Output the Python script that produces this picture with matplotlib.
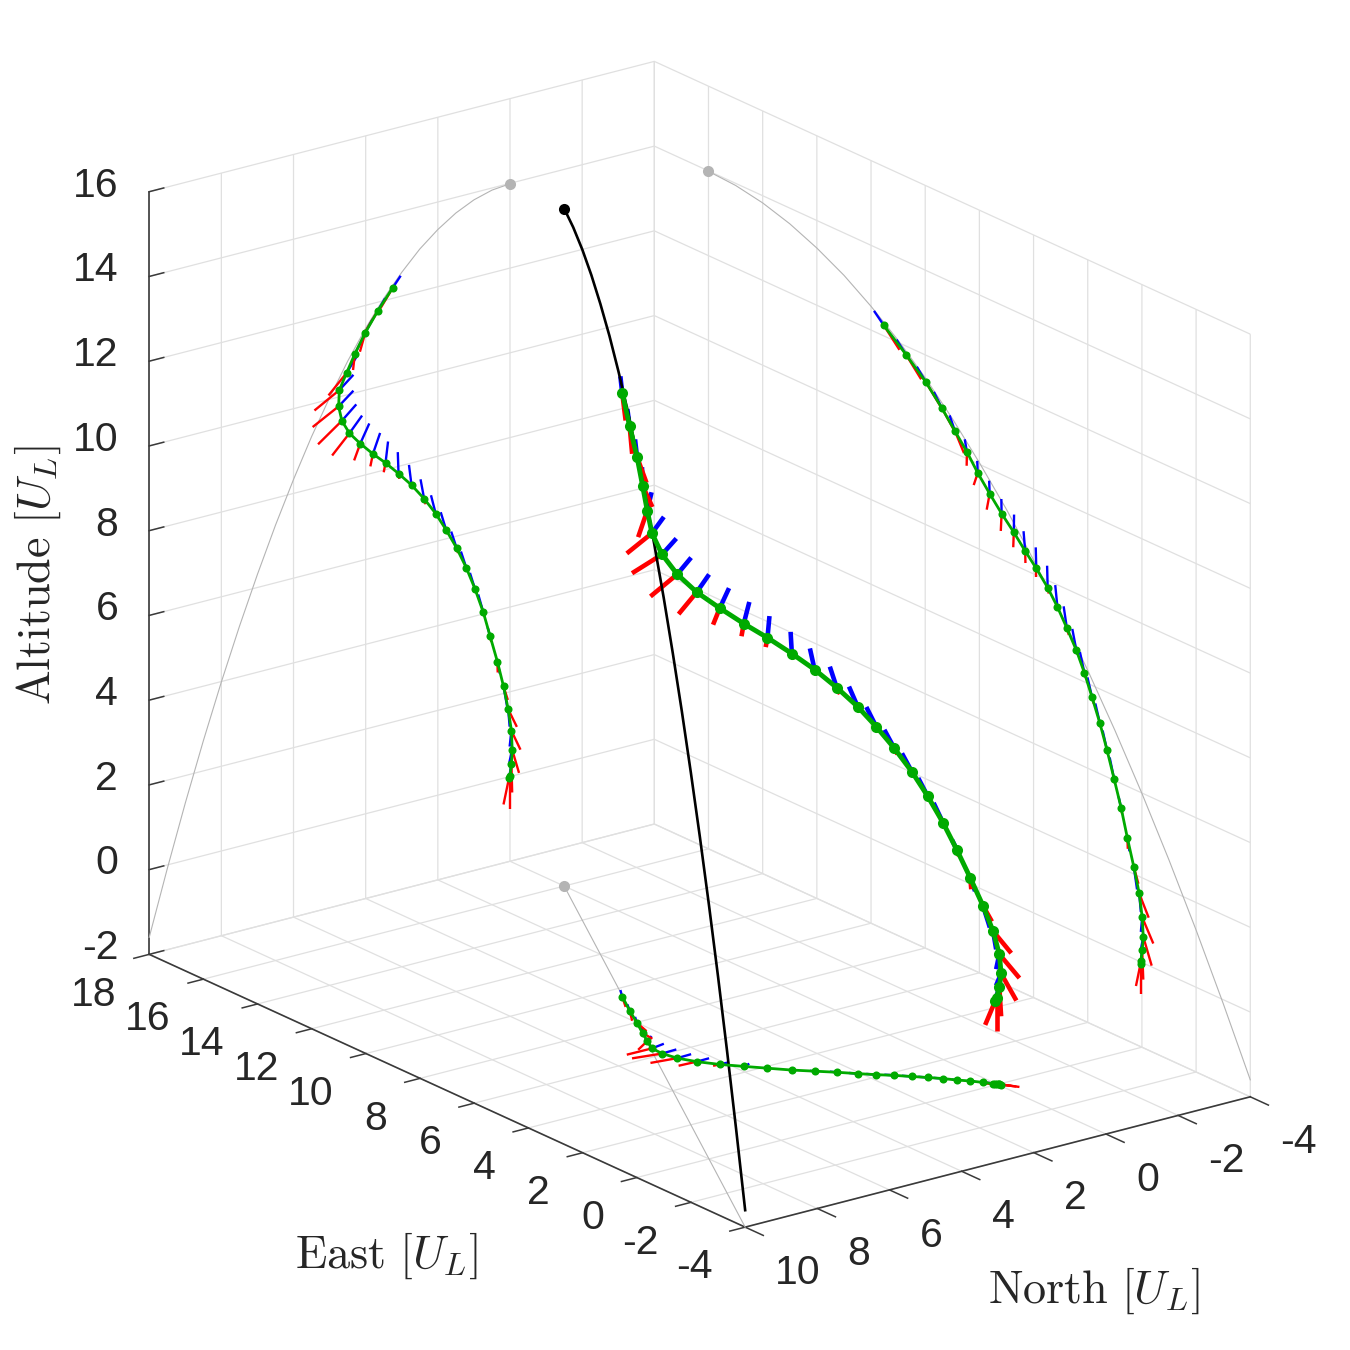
import numpy as np
import matplotlib
matplotlib.use("Agg")
import matplotlib.pyplot as plt
from mpl_toolkits.mplot3d import proj3d

# =========================================================
# DATA
# =========================================================
# nominal (black) trajectory
nom_east = [16, 15, 14, 13, 12, 11, 10, 9, 8, 7, 6, 5, 4, 3, 2, 1, 0, -1, -2, -3, -4]
nom_north = [0, 0.5, 1, 1.5, 2, 2.5, 3, 3.5, 4, 4.5, 5, 5.5, 6, 6.5, 7, 7.5, 8, 8.5, 9, 9.5, 10]
nom_alt = [13.99, 13.95, 13.83, 13.63, 13.35, 13.00, 12.56, 12.05, 11.46, 10.79, 10.04,
           9.23, 8.33, 7.36, 6.31, 5.19, 3.99, 2.71, 1.35, -0.09, -1.60]

# flown (green) trajectory
east = [9.53, 8.71, 7.97, 7.38, 6.90, 6.46, 6.06, 5.62, 5.18, 4.73, 4.31, 3.90, 3.48, 3.12, 2.77,
        2.42, 2.12, 1.84, 1.55, 1.29, 1.03, 0.77, 0.54, 0.30, 0.10, -0.01, -0.05, -0.01, 0.04, 0.05]
north = [3.25, 3.66, 4.01, 4.30, 4.53, 4.73, 4.75, 4.66, 4.45, 4.15, 3.80, 3.45, 3.09, 2.73, 2.38,
         2.06, 1.77, 1.48, 1.21, 0.97, 0.74, 0.55, 0.35, 0.18, 0.05, -0.04, -0.06, -0.04, 0.00, 0.03]
alt = [12.25, 11.80, 11.36, 10.92, 10.52, 10.16, 9.78, 9.42, 9.08, 8.77, 8.45, 8.16, 7.83, 7.48, 7.08,
       6.66, 6.21, 5.72, 5.19, 4.64, 4.04, 3.43, 2.79, 2.17, 1.60, 1.07, 0.62, 0.29, 0.02, -0.04]

# blue whisker offsets
blue_de = [0.36, 0.35, 0.34, 0.30, 0.20, 0.08, 0.02, 0.02, 0.01, -0.01, 0.06, 0.02, 0.02, 0.08, 0.12,
           0.15, 0.17, 0.17, 0.17, 0.16, 0.16, 0.09, -0.08, -0.12, -0.06, 0.05, 0.08, 0.05, 0.02, 0.02]
blue_dn = [-0.22, -0.20, -0.20, -0.21, -0.27, -0.39, -0.41, -0.40, -0.35, -0.25, -0.20, -0.07, 0.02, 0.07, 0.10,
           0.13, 0.15, 0.15, 0.15, 0.14, 0.14, 0.07, -0.07, -0.10, -0.04, 0.05, 0.08, 0.05, 0.02, 0.02]
blue_dz = [0.235, 0.25, 0.27, 0.30, 0.315, 0.275, 0.28, 0.30, 0.34, 0.42, 0.45, 0.49, 0.51, 0.49, 0.48,
           0.46, 0.45, 0.42, 0.42, 0.41, 0.45, 0.23, -0.30, -0.50, -0.42, -0.36, -0.29, -0.24, -0.12, -0.10]

# red whisker offsets
red_de = [-0.58, -0.56, -0.55, -0.43, -0.33, 0.01, 0.15, 0.11, 0.03, 0.02, -0.01, 0.00, -0.04, -0.02, -0.07,
          -0.04, -0.06, -0.06, -0.04, -0.04, -0.04, -0.04, -0.02, -0.17, -0.35, -0.41, -0.31, -0.04, 0.00, 0.17]
red_dn = [0.34, 0.35, 0.15, 0.05, 0.50, 0.69, 0.72, 0.66, 0.48, 0.17, 0.07, 0.05, -0.02, -0.01, -0.04,
          -0.03, -0.04, -0.04, -0.03, -0.03, -0.03, -0.03, -0.01, -0.12, -0.24, -0.25, -0.19, -0.02, 0.00, 0.15]
red_dz = [-0.41, -0.42, -0.42, -0.37, -0.42, -0.33, -0.33, -0.41, -0.42, -0.36, -0.28, -0.21, -0.13, -0.07, -0.14,
          -0.09, -0.11, -0.13, -0.09, -0.09, -0.11, -0.14, -0.26, -0.35, -0.47, -0.50, -0.59, -0.68, -0.78, -0.58]

east_ticks = [-4, -2, 0, 2, 4, 6, 8, 10, 12, 14, 16, 18]
north_ticks = [-4, -2, 0, 2, 4, 6, 8, 10]
alt_ticks = [-2, 0, 2, 4, 6, 8, 10, 12, 14, 16]

E_MIN, E_MAX = -4, 18
N_MIN, N_MAX = -4, 10
Z_MIN, Z_MAX = -2, 16

GRID_COL = "#e0e0e0"
AXIS_COL = "#3a3a3a"
TEXT_COL = "#262626"
GREEN = "#00aa00"
SHADOW = "#b4b4b4"

plt.rcParams["font.family"] = ["Liberation Sans", "DejaVu Sans"]
plt.rcParams["mathtext.fontset"] = "cm"
plt.rcParams["grid.color"] = GRID_COL
plt.rcParams["grid.linewidth"] = 0.9

east = np.array(east)
north = np.array(north)
alt = np.array(alt)
nom_east = np.array(nom_east, dtype=float)
nom_north = np.array(nom_north, dtype=float)
nom_alt = np.array(nom_alt)
blue_de, blue_dn, blue_dz = map(np.array, (blue_de, blue_dn, blue_dz))
red_de, red_dn, red_dz = map(np.array, (red_de, red_dn, red_dz))


# =========================================================
# AXES
# =========================================================
fig = plt.figure(figsize=(13.5, 13.5), dpi=100)
ax = fig.add_axes([6.5 / 1350, 12.5 / 1350, 1, 1], projection="3d", proj_type="ortho")
ax.computed_zorder = False
ax.set_box_aspect((E_MAX - E_MIN, N_MAX - N_MIN, Z_MAX - Z_MIN), zoom=1.028)
ax.view_init(elev=20.1, azim=143.1)
ax.set_xlim(E_MIN, E_MAX, view_margin=0)
ax.set_ylim(N_MIN, N_MAX, view_margin=0)
ax.set_zlim(Z_MIN, Z_MAX, view_margin=0)
ax.set_xticks(east_ticks)
ax.set_yticks(north_ticks)
ax.set_zticks(alt_ticks)
ax.set_xticklabels([])
ax.set_yticklabels([])
ax.set_zticklabels([])
ax.patch.set_alpha(0)
ax.zaxis.set_ticks_position("upper")

for axis, tick_len in ((ax.xaxis, -0.38), (ax.yaxis, -0.38), (ax.zaxis, 0.36)):
    axis.set_pane_color((1, 1, 1, 0))
    axis.pane.set_edgecolor(GRID_COL)
    axis.pane.set_linewidth(0.9)
    axis.line.set_color(AXIS_COL)
    axis.line.set_linewidth(1.2)
    axis._axinfo["tick"]["inward_factor"] = 0
    axis._axinfo["tick"]["outward_factor"] = tick_len
    axis._axinfo["tick"]["linewidth"] = {True: 1.1, False: 1.1}
ax.tick_params(colors=AXIS_COL)


# =========================================================
# DRAW ONE TRAJECTORY COPY
# =========================================================
def draw_flown(e, n, z, line_w, stick_w, marker):
    # planes flatten the whisker along their fixed coordinate
    for de, dn, dz, col, order in ((blue_de, blue_dn, blue_dz, "#0000ff", 3),
                                   (red_de, red_dn, red_dz, "#ff0000", 3.1)):
        for i in range(len(e)):
            ax.plot([e[i], e[i] + (0 if e[0] == E_MAX else de[i])],
                    [n[i], n[i] + (0 if n[0] == N_MIN else dn[i])],
                    [z[i], z[i] + (0 if z[0] == Z_MIN else dz[i])],
                    color=col, lw=stick_w, solid_capstyle="butt", zorder=order)
    ax.plot(e, n, z, color=GREEN, lw=line_w, marker="o", ms=marker, mew=0, zorder=5)


wall_e = np.full_like(east, E_MAX)
wall_n = np.full_like(north, N_MIN)
wall_z = np.full_like(alt, Z_MIN)

# gray shadows of the nominal path on the three back planes
ax.plot(np.full_like(nom_east, E_MAX), nom_north, nom_alt, color=SHADOW, lw=0.8, zorder=2)
ax.plot(nom_east, np.full_like(nom_north, N_MIN), nom_alt, color=SHADOW, lw=0.8, zorder=2)
ax.plot(nom_east, nom_north, np.full_like(nom_alt, Z_MIN), color=SHADOW, lw=0.8, zorder=2)
ax.plot([E_MAX], [nom_north[0]], [nom_alt[0]], "o", color=SHADOW, ms=8, mew=0, zorder=2)
ax.plot([nom_east[0]], [N_MIN], [nom_alt[0]], "o", color=SHADOW, ms=8, mew=0, zorder=2)
ax.plot([nom_east[0]], [nom_north[0]], [Z_MIN], "o", color=SHADOW, ms=8, mew=0, zorder=2)

draw_flown(wall_e, north, alt, 2.0, 1.7, 5.8)
draw_flown(east, wall_n, alt, 2.0, 1.7, 5.8)
draw_flown(east, north, wall_z, 2.0, 1.7, 5.8)

ax.plot(nom_east, nom_north, nom_alt, color="black", lw=1.9, zorder=4)
ax.plot(nom_east[:1], nom_north[:1], nom_alt[:1], "o", color="black", ms=8, mew=0, zorder=4)

draw_flown(east, north, alt, 3.5, 3.3, 8)


# =========================================================
# TICK LABELS AND AXIS LABELS
# =========================================================
M = ax.get_proj()


def label_at(x, y, z, text, ha):
    px, py, _ = proj3d.proj_transform(x, y, z, M)
    ax.text2D(px, py, text, transform=ax.transData, ha=ha, va="center", fontsize=29.5, color=TEXT_COL)


for v in east_ticks:
    label_at(v, N_MAX + 0.91, Z_MIN - 0.75, str(v), "right")
for v in north_ticks:
    label_at(E_MIN - 1.11, v, Z_MIN - 0.753, str(v), "left")
for v in alt_ticks:
    label_at(E_MAX + 1.144, N_MAX, v - 0.19, str(v), "right")

fig.text(386 / 1350, 1 - 1256 / 1350, r"$\mathrm{East}\ [U_L]$", ha="center", va="center", fontsize=33.3, color=TEXT_COL)
fig.text(1094 / 1350, 1 - 1291 / 1350, r"$\mathrm{North}\ [U_L]$", ha="center", va="center", fontsize=33.3, color=TEXT_COL)
fig.text(38 / 1350, 1 - 575 / 1350, r"$\mathrm{Altitude}\ [U_L]$", ha="center", va="center", rotation=90, fontsize=33.3, color=TEXT_COL)

fig.savefig("out.png", dpi=100, facecolor="white")
